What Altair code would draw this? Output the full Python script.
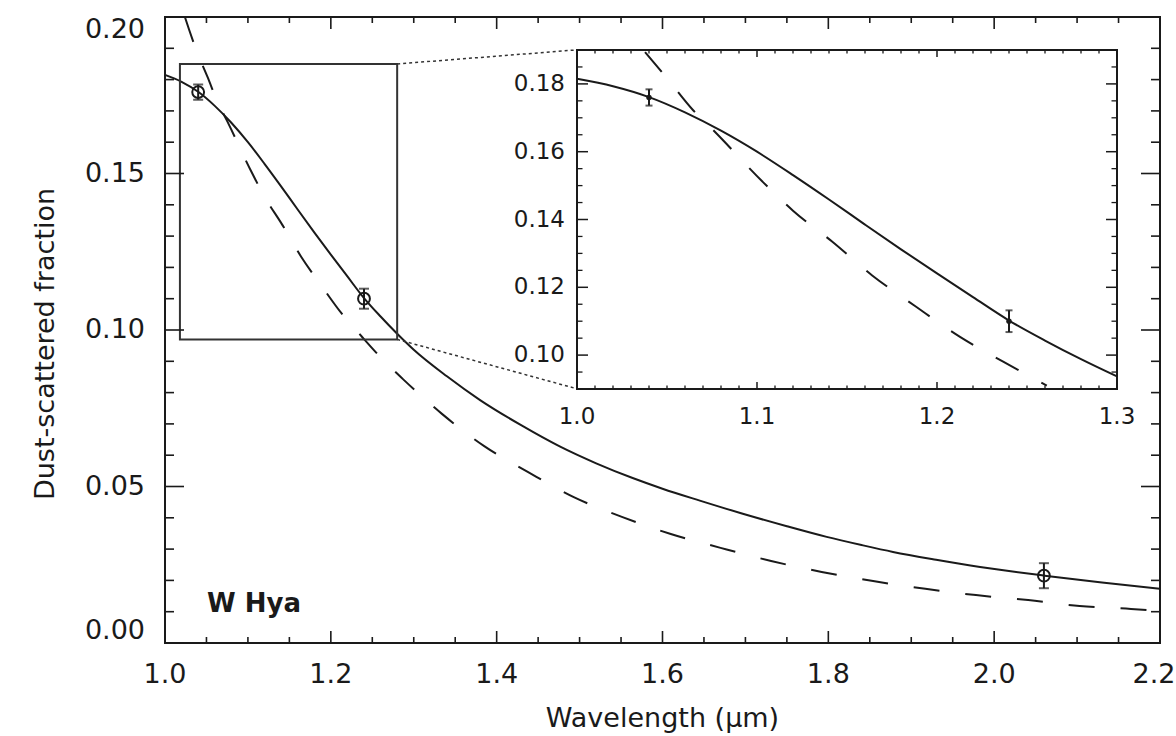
import altair as alt
import pandas as pd

# ---------------- data ----------------
solid_x = [1.00, 1.02, 1.04, 1.06, 1.08, 1.10, 1.12, 1.14, 1.16, 1.18, 1.20, 1.22, 1.24,
           1.26, 1.28, 1.30, 1.34, 1.38, 1.43, 1.476, 1.52, 1.564, 1.60, 1.645, 1.702,
           1.75, 1.798, 1.84, 1.878, 1.93, 1.983, 2.02, 2.061, 2.13, 2.20]
solid_y = [0.1815, 0.1793, 0.1761, 0.1716, 0.1662, 0.1600, 0.1531, 0.1459, 0.1385, 0.1312,
           0.1241, 0.1171, 0.1102, 0.1043, 0.0988, 0.0937, 0.0852, 0.0776, 0.0695, 0.0628,
           0.0574, 0.0527, 0.0493, 0.0455, 0.0409, 0.0373, 0.0339, 0.0313, 0.0291, 0.0266,
           0.0243, 0.0229, 0.0215, 0.0193, 0.0173]

dash_x = [1.024, 1.029, 1.0378, 1.051, 1.0644, 1.0756, 1.103, 1.120, 1.1417, 1.164,
          1.188, 1.213, 1.237, 1.261, 1.287, 1.334, 1.385, 1.438, 1.493, 1.551,
          1.610, 1.670, 1.731, 1.792, 1.854, 1.917, 1.978, 2.041, 2.103, 2.165, 2.200]
dash_y = [0.2000, 0.1960, 0.1894, 0.1810, 0.1723, 0.1664, 0.1512, 0.1426, 0.1335, 0.1235,
          0.1144, 0.1053, 0.0980, 0.0910, 0.0843, 0.0732, 0.0629, 0.0546, 0.0466, 0.0403,
          0.0348, 0.0304, 0.0262, 0.0227, 0.0198, 0.0173, 0.0153, 0.0137, 0.0118, 0.0109, 0.0102]

pt_x = [1.04, 1.24, 2.06]
pt_y = [0.1760, 0.1100, 0.0215]
pt_err = [0.0024, 0.0032, 0.0040]

main_x_domain = [1.0, 2.2]
main_y_domain = [0.0, 0.20]
inset_x_domain = [1.0, 1.3]
inset_y_domain = [0.09, 0.19]

zoom_box = {"x0": [1.018], "x1": [1.28], "y0": [0.097], "y1": [0.185]}
# connector lines: zoom-box corner -> inset corner (main-axis coordinates)
connect = {"x0": [1.28, 1.28], "y0": [0.185, 0.097], "x1": [1.497, 1.497], "y1": [0.1895, 0.0812]}

main_x_major = [1.0, 1.2, 1.4, 1.6, 1.8, 2.0, 2.2]
main_x_labels = ["1.0", "1.2", "1.4", "1.6", "1.8", "2.0", "2.2"]
main_x_minor = [1.05, 1.10, 1.15, 1.25, 1.30, 1.35, 1.45, 1.50, 1.55, 1.65, 1.70, 1.75,
                1.85, 1.90, 1.95, 2.05, 2.10, 2.15]
main_y_major = [0.00, 0.05, 0.10, 0.15, 0.20]
main_y_labels = ["0.00", "0.05", "0.10", "0.15", "0.20"]
main_y_minor = [0.01, 0.02, 0.03, 0.04, 0.06, 0.07, 0.08, 0.09, 0.11, 0.12, 0.13, 0.14,
                0.16, 0.17, 0.18, 0.19]
inset_x_major = [1.0, 1.1, 1.2, 1.3]
inset_x_labels = ["1.0", "1.1", "1.2", "1.3"]
inset_x_minor = [round(1.0 + 0.01 * i, 2) for i in range(1, 30) if i % 10]
inset_y_major = [0.10, 0.12, 0.14, 0.16, 0.18]
inset_y_labels = ["0.10", "0.12", "0.14", "0.16", "0.18"]
inset_y_minor = [0.090, 0.095, 0.105, 0.110, 0.115, 0.125, 0.130, 0.135, 0.145, 0.150,
                 0.155, 0.165, 0.170, 0.175, 0.185, 0.190]

x_title = ["Wavelength (µm)"]
y_title = ["Dust-scattered fraction"]
star_label = ["W Hya"]

# ---------------- layout / style ----------------
FONT = "DejaVu Sans"
INK = "#1a1a1a"
W, H = 995, 626
IX0, IX1 = 412, 952      # inset placement (px inside plot area)
IY0, IY1 = 372, 33
FS = 27
IFS = 23

solid_df = pd.DataFrame({"x": solid_x, "y": solid_y})
dash_df = pd.DataFrame({"x": dash_x, "y": dash_y})
pts_df = pd.DataFrame({"x": pt_x, "y": pt_y, "e": pt_err})
pts_df["lo"] = pts_df["y"] - pts_df["e"]
pts_df["hi"] = pts_df["y"] + pts_df["e"]
caps_df = pd.concat([pts_df[["x", "lo"]].rename(columns={"lo": "c"}),
                     pts_df[["x", "hi"]].rename(columns={"hi": "c"})], ignore_index=True)

mxs = alt.Scale(domain=main_x_domain, nice=False, zero=False)
mys = alt.Scale(domain=main_y_domain, nice=False, zero=False)
ixs = alt.Scale(domain=inset_x_domain, nice=False, zero=False, range=[IX0, IX1])
iys = alt.Scale(domain=inset_y_domain, nice=False, zero=False, range=[IY0, IY1])


def X(field, scale):
    return alt.X(field, scale=scale, axis=None)


def Y(field, scale):
    return alt.Y(field, scale=scale, axis=None)


def tick_rules(vals, xscale, yscale, vertical, p0, p1, width=1.6):
    df = pd.DataFrame({"v": vals})
    ch = alt.Chart(df).mark_rule(color=INK, strokeWidth=width)
    if vertical:  # ticks on a horizontal edge, positioned by x
        return ch.encode(x=X("v:Q", xscale), y=alt.value(p0), y2=alt.value(p1))
    return ch.encode(y=Y("v:Q", yscale), x=alt.value(p0), x2=alt.value(p1))


def text_layer(df, size, **mark):
    return alt.Chart(df).mark_text(font=FONT, fontSize=size, color=INK, **mark)


# ---------------- main panel ----------------
main_solid = alt.Chart(solid_df).mark_line(color=INK, strokeWidth=2, interpolate="monotone").encode(
    x=X("x:Q", mxs), y=Y("y:Q", mys))
main_dash = alt.Chart(dash_df).mark_line(color=INK, strokeWidth=2, strokeDash=[26, 26],
                                         interpolate="monotone").encode(
    x=X("x:Q", mxs), y=Y("y:Q", mys))
main_box = alt.Chart(pd.DataFrame(zoom_box)).mark_rect(fillOpacity=0, stroke="#333", strokeWidth=2).encode(
    x=X("x0:Q", mxs), x2="x1:Q", y=Y("y0:Q", mys), y2="y1:Q")
main_conn = alt.Chart(pd.DataFrame(connect)).mark_rule(color="#333", strokeWidth=1.5,
                                                       strokeDash=[3, 3]).encode(
    x=X("x0:Q", mxs), x2="x1:Q", y=Y("y0:Q", mys), y2="y1:Q")
main_err = alt.Chart(pts_df).mark_rule(color=INK, strokeWidth=2).encode(
    x=X("x:Q", mxs), y=Y("lo:Q", mys), y2="hi:Q")
main_caps = alt.Chart(caps_df).mark_tick(color=INK, orient="horizontal", size=10, thickness=2).encode(
    x=X("x:Q", mxs), y=Y("c:Q", mys))
main_pts = alt.Chart(pts_df).mark_point(shape="circle", filled=False, size=140, color=INK,
                                        strokeWidth=2, opacity=1).encode(
    x=X("x:Q", mxs), y=Y("y:Q", mys))
main_star = text_layer(pd.DataFrame({"t": star_label}), 26, fontWeight="bold", align="left",
                       baseline="alphabetic").encode(text="t:N", x=alt.value(42), y=alt.value(595))

main_ticks = [
    tick_rules(main_x_major, mxs, mys, True, H, H - 12),
    tick_rules(main_x_major, mxs, mys, True, 0, 12),
    tick_rules(main_x_minor, mxs, mys, True, H, H - 6),
    tick_rules(main_x_minor, mxs, mys, True, 0, 6),
    tick_rules(main_y_major, mxs, mys, False, 0, 19),
    tick_rules(main_y_major, mxs, mys, False, W, W - 19),
    tick_rules(main_y_minor, mxs, mys, False, 0, 9),
    tick_rules(main_y_minor, mxs, mys, False, W, W - 9),
]

# tick labels and titles (text through the scales)
mxl_df = pd.DataFrame({"v": main_x_major, "t": main_x_labels})
myl_df = pd.DataFrame({"v": main_y_major, "t": main_y_labels})
main_xlab = text_layer(mxl_df, FS, align="center", baseline="alphabetic").transform_filter(
    alt.datum.v < main_x_domain[1]).encode(x=X("v:Q", mxs), y=alt.value(H + 40), text="t:N")
main_xlab_end = text_layer(mxl_df, FS, align="center", baseline="alphabetic", dx=-6).transform_filter(
    alt.datum.v == main_x_domain[1]).encode(x=X("v:Q", mxs), y=alt.value(H + 40), text="t:N")
main_ylab_mid = text_layer(myl_df, FS, align="right", baseline="middle").transform_filter(
    (alt.datum.v > main_y_domain[0]) & (alt.datum.v < main_y_domain[1])).encode(
    y=Y("v:Q", mys), x=alt.value(-20), text="t:N")
main_ylab_lo = text_layer(myl_df, FS, align="right", baseline="alphabetic", dy=-4).transform_filter(
    alt.datum.v == main_y_domain[0]).encode(y=Y("v:Q", mys), x=alt.value(-20), text="t:N")
main_ylab_hi = text_layer(myl_df, FS, align="right", baseline="top").transform_filter(
    alt.datum.v == main_y_domain[1]).encode(y=Y("v:Q", mys), x=alt.value(-20), text="t:N")
main_xtitle = text_layer(pd.DataFrame({"t": x_title}), FS, align="center", baseline="alphabetic").encode(
    text="t:N", x=alt.value(W / 2), y=alt.value(H + 84))
main_ytitle = text_layer(pd.DataFrame({"t": y_title}), FS, align="center", baseline="alphabetic",
                         angle=270).encode(text="t:N", x=alt.value(-111), y=alt.value(H / 2 + 14))

main_group = alt.layer(main_solid, main_dash, main_box, main_conn, main_err, main_caps,
                       main_pts, main_star, *main_ticks,
                       main_xlab, main_xlab_end, main_ylab_mid, main_ylab_lo, main_ylab_hi,
                       main_xtitle, main_ytitle)

# ---------------- inset panel ----------------
ins_frame = alt.Chart(pd.DataFrame({"x0": [inset_x_domain[0]], "x1": [inset_x_domain[1]],
                                    "y0": [inset_y_domain[0]], "y1": [inset_y_domain[1]]})).mark_rect(
    fill="white", stroke=INK, strokeWidth=2).encode(
    x=X("x0:Q", ixs), x2="x1:Q", y=Y("y0:Q", iys), y2="y1:Q")
in_range = ((alt.datum.x >= inset_x_domain[0]) & (alt.datum.x <= inset_x_domain[1]) &
            (alt.datum.y >= inset_y_domain[0]) & (alt.datum.y <= inset_y_domain[1]))
ins_solid = alt.Chart(solid_df).transform_filter(in_range).mark_line(
    color=INK, strokeWidth=2, interpolate="monotone").encode(x=X("x:Q", ixs), y=Y("y:Q", iys))
ins_dash = alt.Chart(dash_df).transform_filter(in_range).mark_line(
    color=INK, strokeWidth=2, strokeDash=[26, 26], interpolate="monotone").encode(
    x=X("x:Q", ixs), y=Y("y:Q", iys))
ins_err = alt.Chart(pts_df).transform_filter(alt.datum.x <= inset_x_domain[1]).mark_rule(
    color=INK, strokeWidth=2).encode(x=X("x:Q", ixs), y=Y("lo:Q", iys), y2="hi:Q")
ins_caps = alt.Chart(caps_df).transform_filter(alt.datum.x <= inset_x_domain[1]).mark_tick(
    color=INK, orient="horizontal", size=7, thickness=2).encode(x=X("x:Q", ixs), y=Y("c:Q", iys))
ins_pts = alt.Chart(pts_df).transform_filter(alt.datum.x <= inset_x_domain[1]).mark_point(
    shape="circle", filled=True, size=30, color=INK, opacity=1).encode(
    x=X("x:Q", ixs), y=Y("y:Q", iys))

ins_ticks = [
    tick_rules(inset_x_major, ixs, iys, True, IY0, IY0 - 7, 1.5),
    tick_rules(inset_x_major, ixs, iys, True, IY1, IY1 + 7, 1.5),
    tick_rules(inset_x_minor, ixs, iys, True, IY0, IY0 - 3.5, 1.3),
    tick_rules(inset_x_minor, ixs, iys, True, IY1, IY1 + 3.5, 1.3),
    tick_rules(inset_y_major, ixs, iys, False, IX0, IX0 + 11, 1.5),
    tick_rules(inset_y_major, ixs, iys, False, IX1, IX1 - 11, 1.5),
    tick_rules(inset_y_minor, ixs, iys, False, IX0, IX0 + 5.5, 1.3),
    tick_rules(inset_y_minor, ixs, iys, False, IX1, IX1 - 5.5, 1.3),
]

ixl_df = pd.DataFrame({"v": inset_x_major, "t": inset_x_labels})
iyl_df = pd.DataFrame({"v": inset_y_major, "t": inset_y_labels})
ins_xlab = text_layer(ixl_df, IFS, align="center", baseline="alphabetic").encode(
    x=X("v:Q", ixs), y=alt.value(IY0 + 35), text="t:N")
ins_ylab = text_layer(iyl_df, IFS, align="right", baseline="middle").encode(
    y=Y("v:Q", iys), x=alt.value(IX0 - 12), text="t:N")

inset_group = alt.layer(ins_frame, ins_solid, ins_dash, ins_err, ins_caps, ins_pts, *ins_ticks,
                        ins_xlab, ins_ylab)

chart = alt.layer(main_group, inset_group).resolve_scale(
    x="independent", y="independent"
).properties(
    width=W, height=H,
    autosize=alt.AutoSizeParams(type="none"),
    padding={"left": 165, "top": 17, "right": 16, "bottom": 93},
    background="white",
).configure_view(stroke=INK, strokeWidth=2)

chart.save("out.html", embed_options={"renderer": "svg", "actions": False})
